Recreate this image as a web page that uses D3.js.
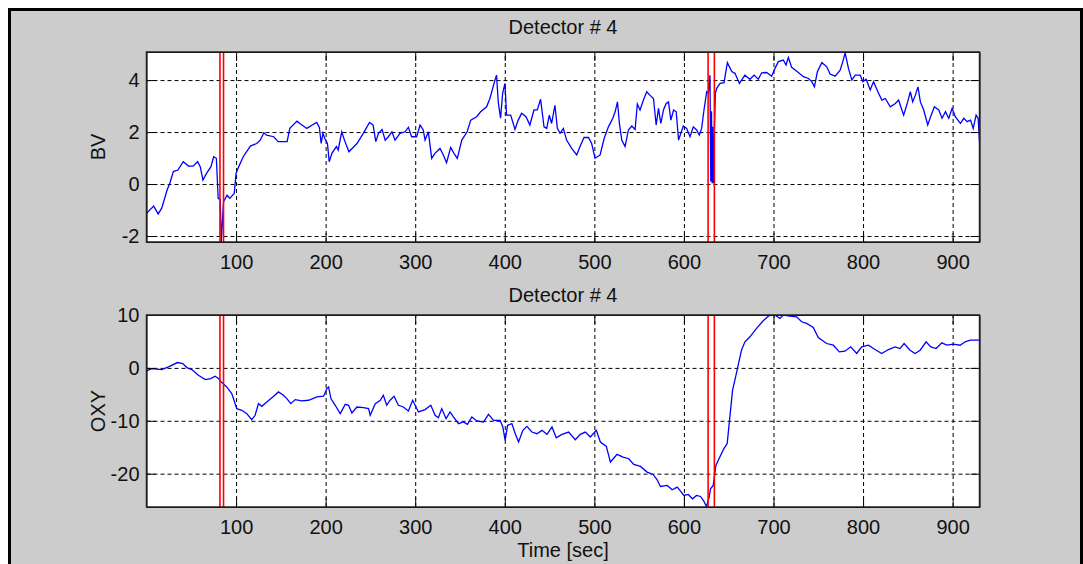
<!DOCTYPE html>
<html>
<head>
<meta charset="utf-8">
<script src="https://d3js.org/d3.v7.min.js"></script>
<style>
  body { margin: 0; background: #fff; }
</style>
</head>
<body>
<svg width="1083" height="564"></svg>
<script>

// time axis ticks, shared by both panels
var xTicks = [100, 200, 300, 400, 500, 600, 700, 800, 900];
var bvTicks = [-2, 0, 2, 4];
var oxyTicks = [-20, -10, 0, 10];

// event markers (sec) - pairs of red lines
var markerTimes = [82, 86, 627, 634];

// BV trace [time, value]
var bvData = [
[0,-1.13],[8,-0.85],[13,-1.15],[17,-0.93],[23,-0.23],[26,0.03],[30,0.48],[35,0.54],[41,0.86],[47,0.69],
[52,0.69],[57,0.86],[60,0.67],[63,0.15],[67,0.41],[72,0.67],[75,1.05],[78,0.99],[80,-0.55],[82.3,-0.6],
[83.5,-2.23],[84.5,-1.6],[86,-0.68],[90,-0.43],[93,-0.55],[98,-0.36],[100,0.41],[103,0.67],[108,1.05],[116,1.46],
[123,1.56],[127,1.69],[131,1.97],[134,1.88],[142,1.82],[147,1.63],[157,1.63],[160,2.14],[168,2.42],[172,2.31],
[179,2.14],[185,2.27],[190,2.37],[193,2.18],[195,1.56],[197,1.95],[199,1.76],[202,1.56],[204,0.86],[207,1.18],
[212,1.44],[214,1.31],[218,2.01],[221,1.69],[226,1.24],[235,1.56],[242,1.95],[249,2.37],[253,2.27],[256,1.63],
[259,1.95],[263,2.1],[266.5,1.69],[270,1.82],[274,2.01],[277.5,1.69],[283,1.95],[288.6,2.01],[292.4,2.18],[296,1.82],
[301.6,1.82],[305.4,2.27],[309,2.08],[311,1.69],[314.7,2.01],[318.4,0.99],[322,1.18],[327.7,1.37],[331.4,1.12],[335,0.82],
[339.6,1.41],[343.3,1.18],[347,0.99],[352,1.69],[358,2.01],[362,2.46],[368.6,2.59],[373,2.78],[379.7,2.97],[383.4,3.29],
[389,4.0],[390.8,4.19],[392.7,3.16],[395.3,2.53],[397.6,3.49],[400.2,3.87],[402,2.65],[406.6,2.65],[411.4,2.1],[415,2.46],
[418.8,2.72],[423.7,2.59],[428,2.27],[432.6,2.85],[436.3,2.85],[440,3.26],[443.8,2.2],[446.8,2.14],[449.7,2.65],[452.3,2.33],
[456,3.03],[458.7,2.14],[461.7,1.95],[465.4,2.14],[469,1.69],[474.7,1.37],[480.3,1.12],[484,1.44],[488.5,1.79],[493.4,1.79],
[497,1.56],[500.8,0.99],[506.4,1.12],[511,1.76],[515.7,2.2],[520.6,2.53],[523.2,2.78],[525.8,3.16],[528,2.33],[530.6,1.69],
[534.3,1.44],[538,2.08],[541.8,2.23],[545.5,2.1],[548,3.08],[551,2.85],[554.8,3.23],[558.5,3.55],[562,3.42],[566,3.29],
[569,2.27],[571.6,2.91],[574.2,2.33],[577.2,2.85],[580.2,3.1],[582.8,3.16],[585.4,2.46],[588.4,2.85],[591.4,2.78],[594,1.69],
[599.3,2.23],[603,2.14],[606.8,1.82],[610.5,2.2],[614.2,2.08],[617.2,1.88],[619.8,2.14],[622.4,2.85],[625.4,3.55],[627.3,3.49],
[629.1,4.19],[630,0.1],[630.8,2.8],[631.5,0.03],[632.2,2.2],[632.9,0.03],[633.6,1.6],[635.1,3.49],[636.6,3.68],[640.4,3.87],
[644.8,3.9],[648.5,4.67],[653.4,4.33],[657,4.26],[662,3.87],[668,4.19],[673.8,4.03],[678.3,4.19],[683,4.03],[686.8,4.28],
[692.4,4.29],[698,4.15],[701.7,4.45],[705.4,4.71],[711,4.77],[714,4.58],[716.6,4.87],[720.3,4.49],[726.7,4.32],[733.4,4.13],
[739,4.06],[742.7,3.94],[745.7,3.74],[749,4.32],[754,4.67],[759.5,4.51],[763.2,4.23],[768.8,4.15],[774.4,4.38],[777.4,4.71],
[780,5.05],[783.7,4.45],[787.5,4.0],[791.2,4.19],[796.8,4.19],[799.8,3.94],[803.5,4.03],[808,3.62],[811.7,3.94],[817.3,3.49],
[821,3.23],[824.8,3.29],[830.4,2.97],[836,3.1],[839.7,3.23],[841.6,3.03],[845.3,2.65],[849.8,3.16],[852.8,3.55],[855.4,3.16],
[858.4,3.42],[861.3,3.74],[864,3.16],[867.7,2.85],[872.2,2.27],[876,2.65],[879.6,2.97],[884.5,2.85],[888.2,2.53],[892,2.78],
[895.7,2.53],[899.4,2.91],[903,2.59],[908.7,2.33],[912.4,2.53],[916.2,2.4],[920,2.46],[923,2.14],[926.2,2.65],[928.5,2.53],
[930,1.63]
];

// OXY trace [time, value]
var oxyData = [
[0,-0.57],[6,-0.13],[17,-0.32],[24.5,0.19],[34.5,1.01],[40.5,0.82],[45,0.06],[50.6,-0.32],[58,-1.39],[65.5,-2.21],
[71.8,-2.02],[76.6,-1.58],[80.3,-2.02],[84.1,-2.78],[89.6,-3.6],[95.2,-4.86],[100.8,-7.7],[106.4,-8.02],[112,-8.65],[117.5,-9.78],
[121.3,-8.96],[125,-6.76],[128.7,-7.26],[134.3,-6.44],[141,-5.49],[147.3,-4.54],[152.9,-5.17],[156.7,-5.8],[161.1,-6.76],[166,-6.0],
[173.4,-6.25],[180.9,-6.12],[190.2,-5.49],[197.7,-5.36],[201.4,-3.9],[203.3,-3.6],[205.9,-5.8],[210.7,-7.07],[216.3,-8.65],[219.3,-7.7],
[221.9,-6.88],[225.6,-7.07],[229.3,-8.52],[234.9,-7.39],[242.3,-7.51],[247.9,-7.7],[249.8,-8.96],[255.4,-6.76],[261,-6.12],[264.4,-5.17],
[268.2,-7.07],[271.9,-6.12],[276.4,-5.36],[281.2,-7.07],[286.8,-7.39],[292.4,-8.15],[297.2,-6.12],[303.6,-8.33],[311,-7.89],[317.4,-7.07],
[322.2,-8.96],[325.9,-9.41],[329.6,-7.7],[334.5,-9.6],[338.9,-8.33],[342.7,-9.28],[348.3,-10.54],[353.8,-10.23],[358.3,-10.67],[363.2,-9.28],
[368.8,-10.04],[376.2,-10.23],[381.8,-8.77],[387.4,-9.91],[394.8,-9.91],[397.8,-11.17],[400.4,-13.7],[403.1,-10.86],[407.9,-10.54],[411.7,-12.44],
[415.4,-14.02],[420.2,-11.81],[424.7,-11.05],[430.3,-12.13],[435.9,-12.44],[441.5,-11.81],[447.1,-12.57],[452.7,-11.17],[457.5,-13.2],[463.8,-12.57],
[471.3,-12.13],[478.7,-13.58],[484.3,-12.57],[489.9,-12.13],[495.5,-13.07],[502.2,-11.81],[506.7,-14.02],[513.4,-14.85],[517.9,-17.8],[525.4,-16.35],
[532.1,-16.86],[538.4,-17.17],[544,-18.25],[551.5,-18.63],[558.9,-19.7],[565.6,-20.14],[570.1,-21.15],[573.8,-22.41],[581.3,-22.22],[586.9,-23.05],
[592.5,-22.54],[595.5,-23.17],[600,-24.12],[604.8,-23.93],[609.6,-24.75],[614.1,-24.12],[618.5,-24.31],[622.2,-25.2],[625.2,-26.2],[628.2,-24.44],
[629.7,-22.86],[632.7,-22.22],[635.7,-18.43],[640.1,-16.86],[644.6,-15.27],[648.3,-14.32],[651.3,-9.27],[654.3,-4.22],[656.9,-2.33],[660.6,0.51],
[664.3,3.35],[668.1,4.93],[673.7,5.88],[681.1,7.46],[688.5,8.91],[695.2,9.9],[701.6,10.0],[707.2,9.35],[710.9,9.98],[718.3,9.79],
[725.8,9.66],[731.4,8.72],[737,8.4],[744.4,7.64],[750,5.75],[759.3,4.61],[766.8,4.29],[773.5,3.03],[779.8,3.16],[786.2,3.98],
[792.9,2.72],[798.5,3.98],[805.9,4.29],[813.4,3.47],[820.8,2.72],[828.3,3.47],[835.7,3.98],[841.3,3.66],[845.8,4.61],[852.5,3.35],
[858.1,2.72],[863.7,3.35],[870.4,4.93],[875.6,3.98],[881.6,3.66],[887.9,4.74],[893.5,4.29],[901,4.48],[908.4,4.29],[914,4.93],
[919.6,5.24],[930,5.24]
];

var svg = d3.select("svg");
var font = "'Liberation Sans', Arial, sans-serif";
var plain = function (d) { return String(d); };   // keep ascii hyphen for negatives

// figure background with black frame
svg.append("rect")
    .attr("x", 9.5).attr("y", 9.5)
    .attr("width", 1072).attr("height", 600)
    .attr("fill", "#cccccc")
    .attr("stroke", "#000")
    .attr("stroke-width", 3);

var left = 146.5, right = 979.5;
var xScale = d3.scaleLinear().domain([0, 930]).range([left, right]);

function panel(data, yDomain, yTicks, top, bottom, title, titleY, ylabel, id) {
    var yScale = d3.scaleLinear().domain(yDomain).range([bottom, top]);
    var w = right - left, h = bottom - top;

    svg.append("clipPath").attr("id", id)
        .append("rect").attr("x", left).attr("y", top).attr("width", w).attr("height", h);

    svg.append("rect")
        .attr("x", left).attr("y", top).attr("width", w).attr("height", h)
        .attr("fill", "#fff");

    // grid
    svg.append("g")
        .attr("transform", "translate(0," + bottom + ")")
        .call(d3.axisBottom(xScale).tickValues(xTicks).tickSize(-h).tickFormat(""))
        .call(function (g) { g.select(".domain").remove(); })
        .selectAll("line")
        .attr("stroke", "#000").attr("stroke-dasharray", "4,3");

    svg.append("g")
        .attr("transform", "translate(" + left + ",0)")
        .call(d3.axisLeft(yScale).tickValues(yTicks).tickSize(-w).tickFormat(""))
        .call(function (g) { g.select(".domain").remove(); })
        .selectAll("line")
        .attr("stroke", "#000").attr("stroke-dasharray", "4,3");

    // signal
    var line = d3.line()
        .x(function (d) { return xScale(d[0]); })
        .y(function (d) { return yScale(d[1]); });

    svg.append("path")
        .datum(data)
        .attr("clip-path", "url(#" + id + ")")
        .attr("d", line)
        .attr("fill", "none")
        .attr("stroke", "#0000ff")
        .attr("stroke-width", 1.3);

    // event markers
    svg.append("g").selectAll("line")
        .data(markerTimes)
        .enter().append("line")
        .attr("x1", function (d) { return xScale(d); })
        .attr("x2", function (d) { return xScale(d); })
        .attr("y1", top).attr("y2", bottom)
        .attr("stroke", "#ff0000")
        .attr("stroke-width", 1.6);

    // axes with inward ticks
    var ax = svg.append("g")
        .attr("transform", "translate(0," + bottom + ")")
        .call(d3.axisBottom(xScale).tickValues(xTicks).tickFormat(plain)
            .tickSizeInner(-9).tickSizeOuter(0).tickPadding(10));
    ax.selectAll("text").attr("dy", "0.85em");

    var ay = svg.append("g")
        .attr("transform", "translate(" + left + ",0)")
        .call(d3.axisLeft(yScale).tickValues(yTicks).tickFormat(plain)
            .tickSizeInner(-9).tickSizeOuter(0).tickPadding(7));

    svg.append("g")
        .attr("transform", "translate(0," + top + ")")
        .call(d3.axisTop(xScale).tickValues(xTicks).tickSizeInner(-9).tickSizeOuter(0).tickFormat(""));

    svg.append("g")
        .attr("transform", "translate(" + right + ",0)")
        .call(d3.axisRight(yScale).tickValues(yTicks).tickSizeInner(-9).tickSizeOuter(0).tickFormat(""));

    svg.selectAll(".tick line").attr("stroke-width", 1);
    [ax, ay].forEach(function (g) {
        g.attr("font-family", font).attr("font-size", 20);
        g.selectAll("text").attr("fill", "#111");
    });

    svg.append("rect")
        .attr("x", left).attr("y", top).attr("width", w).attr("height", h)
        .attr("fill", "none")
        .attr("stroke", "#222")
        .attr("stroke-width", 1.5);

    // title and y label
    svg.append("text")
        .attr("x", (left + right) / 2)
        .attr("y", titleY)
        .attr("text-anchor", "middle")
        .style("font-family", font)
        .style("font-size", "20px")
        .attr("fill", "#111")
        .text(title);

    svg.append("text")
        .attr("text-anchor", "middle")
        .attr("transform", "translate(105," + (top + bottom) / 2 + ")rotate(-90)")
        .style("font-family", font)
        .style("font-size", "20px")
        .attr("fill", "#111")
        .text(ylabel);
}

panel(bvData, [-2.23, 5.08], bvTicks, 52, 242, "Detector # 4", 34, "BV", "clipBV");
panel(oxyData, [-26.3, 10], oxyTicks, 315, 507, "Detector # 4", 302, "OXY", "clipOXY");

// x label
svg.append("text")
    .attr("x", (left + right) / 2)
    .attr("y", 557)
    .attr("text-anchor", "middle")
    .style("font-family", font)
    .style("font-size", "20px")
    .attr("fill", "#111")
    .text("Time [sec]");

</script>
</body>
</html>
